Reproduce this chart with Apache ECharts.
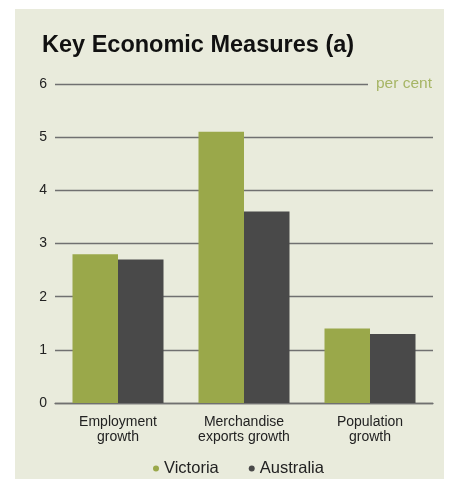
<!DOCTYPE html>
<html><head><meta charset="utf-8">
<script src="https://cdn.jsdelivr.net/npm/echarts@6/dist/echarts.min.js"></script>
<style>
html,body{margin:0;padding:0;background:#fff;}
#panel{position:absolute;left:15px;top:9px;width:429px;height:470px;background:#e9ebdc;}
#chart{position:absolute;left:0;top:0;width:449px;height:479px;}
</style></head>
<body>
<div id="panel"></div>
<div id="chart"></div>
<script>
const categories = ['Employment\ngrowth', 'Merchandise\nexports growth', 'Population\ngrowth'];
const victoria = [2.8, 5.1, 1.4];
const australia = [2.7, 3.6, 1.3];
const yTicks = [0, 1, 2, 3, 4, 5, 6];

const chart = echarts.init(document.getElementById('chart'), null, {renderer: 'canvas'});
chart.setOption({
  backgroundColor: 'transparent',
  animation: false,
  title: {
    text: 'Key Economic Measures (a)',
    left: 37, top: 29,
    textStyle: {fontFamily: 'Liberation Sans', fontWeight: 'bold', fontSize: 23.5, color: '#111'}
  },
  legend: {
    data: ['Victoria', 'Australia'],
    left: 148, top: 455,
    icon: 'circle', itemWidth: 6, itemHeight: 6, itemGap: 30,
    textStyle: {fontFamily: 'Liberation Sans', fontSize: 16.5, color: '#222', padding: [0, 0, 0, 0]}
  },
  grid: {left: 55, right: 16, top: 84, bottom: 76, containLabel: false},
  xAxis: {
    type: 'category', data: categories,
    axisLine: {show: true, lineStyle: {color: '#707070', width: 1.3}},
    axisTick: {show: false},
    axisLabel: {fontFamily: 'Liberation Sans', fontSize: 14, color: '#222', lineHeight: 15.5, margin: 11}
  },
  yAxis: {
    type: 'value', min: yTicks[0], max: yTicks[yTicks.length - 1], interval: 1,
    axisLine: {show: false}, axisTick: {show: false},
    axisLabel: {fontFamily: 'Liberation Sans', fontSize: 14, color: '#222', margin: 8},
    splitLine: {show: true, lineStyle: {color: '#707070', width: 1.3}}
  },
  series: [
    {name: 'Victoria', type: 'bar', data: victoria, barWidth: 45.5, barGap: '0%',
     itemStyle: {color: '#9aa84a'}},
    {name: 'Australia', type: 'bar', data: australia, barWidth: 45.5, barGap: '0%',
     itemStyle: {color: '#494949'}}
  ],
  graphic: [
    {type: 'rect', left: 368, top: 80, shape: {width: 70, height: 8}, style: {fill: '#e9ebdc'}, z: 100},
    {type: 'text', left: 376, top: 76, style: {text: 'per cent', fontFamily: 'Liberation Sans', fontSize: 15.5, fill: '#a6b565'}, z: 101}
  ]
});
</script>
</body></html>
